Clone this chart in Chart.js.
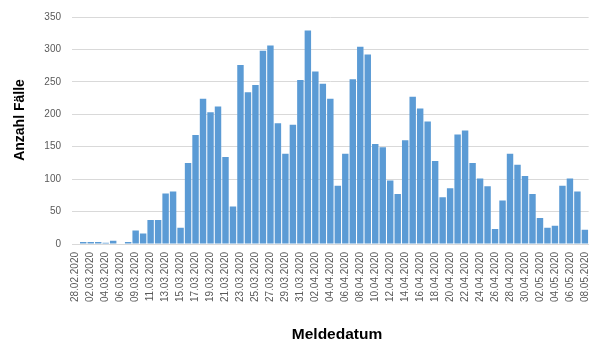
<!DOCTYPE html>
<html lang="de">
<head>
<meta charset="utf-8">
<title>Anzahl Fälle nach Meldedatum</title>
<script src="https://cdn.jsdelivr.net/npm/chart.js@4/dist/chart.umd.min.js"></script>
<style>
  html, body { margin: 0; padding: 0; background: #fff; }
  #chartFaelle { display: block; }
</style>
</head>
<body>
<canvas id="chartFaelle" width="605" height="346"></canvas>
<script>
const meldedatum = [
  "28.02.2020", "01.03.2020", "02.03.2020", "03.03.2020", "04.03.2020", "05.03.2020",
  "06.03.2020", "07.03.2020", "09.03.2020", "10.03.2020", "11.03.2020", "12.03.2020",
  "13.03.2020", "14.03.2020", "15.03.2020", "16.03.2020", "17.03.2020", "18.03.2020",
  "19.03.2020", "20.03.2020", "21.03.2020", "22.03.2020", "23.03.2020", "24.03.2020",
  "25.03.2020", "26.03.2020", "27.03.2020", "28.03.2020", "29.03.2020", "30.03.2020",
  "31.03.2020", "01.04.2020", "02.04.2020", "03.04.2020", "04.04.2020", "05.04.2020",
  "06.04.2020", "07.04.2020", "08.04.2020", "09.04.2020", "10.04.2020", "11.04.2020",
  "12.04.2020", "13.04.2020", "14.04.2020", "15.04.2020", "16.04.2020", "17.04.2020",
  "18.04.2020", "19.04.2020", "20.04.2020", "21.04.2020", "22.04.2020", "23.04.2020",
  "24.04.2020", "25.04.2020", "26.04.2020", "27.04.2020", "28.04.2020", "29.04.2020",
  "30.04.2020", "01.05.2020", "02.05.2020", "03.05.2020", "04.05.2020", "05.05.2020",
  "06.05.2020", "07.05.2020", "08.05.2020"
];

const anzahlFaelle = [
  0, 3, 3, 3, 2, 5, 0, 3, 21, 16,
  37, 37, 78, 81, 25, 125, 168, 224, 203, 212,
  134, 58, 276, 234, 245, 298, 306, 186, 139, 184,
  253, 329, 266, 247, 224, 90, 139, 254, 304, 292,
  154, 149, 98, 77, 160, 227, 209, 189, 128, 72,
  86, 169, 175, 125, 101, 89, 23, 67, 139, 122,
  105, 77, 40, 25, 28, 90, 101, 81, 22
];

const yTicks = [0, 50, 100, 150, 200, 250, 300, 350];

const fontFamily = '"Liberation Sans", Arial, sans-serif';

// Achsentitel selbst zeichnen, damit sie frei positioniert werden können
const achsenTitel = {
  id: "achsenTitel",
  afterDraw(chart) {
    const ctx = chart.ctx;
    ctx.save();
    ctx.fillStyle = "#000";
    ctx.textAlign = "center";
    ctx.textBaseline = "middle";

    ctx.font = "bold 15.5px " + fontFamily;
    ctx.fillText("Meldedatum", 337, 335);

    ctx.translate(20, 120);
    ctx.rotate(-Math.PI / 2);
    ctx.font = "bold 14px " + fontFamily;
    ctx.fillText("Anzahl Fälle", 0, 0);
    ctx.restore();
  }
};

const ctxBar = document.getElementById("chartFaelle").getContext("2d");

new Chart(ctxBar, {
  type: "bar",
  data: {
    labels: meldedatum,
    datasets: [
      {
        label: "Anzahl Fälle",
        data: anzahlFaelle,
        backgroundColor: "#5B9BD5",
        borderWidth: 0,
        categoryPercentage: 1,
        barPercentage: 0.86,
      },
    ],
  },
  options: {
    responsive: false,
    animation: false,
    layout: {
      padding: { top: 15, right: 14, bottom: 0, left: 0 },
    },
    plugins: {
      legend: { display: false },
      tooltip: { enabled: false },
    },
    scales: {
      x: {
        grid: { display: false, drawTicks: false },
        border: { display: true, color: "#D9D9D9", width: 1 },
        ticks: {
          autoSkip: false,
          minRotation: 90,
          maxRotation: 90,
          padding: 8,
          color: "#595959",
          font: { family: fontFamily, size: 10 },
          callback: (value, index) => (index % 2 === 0 ? meldedatum[index] : ""),
        },
        afterFit: (scale) => { scale.height = 102; },
      },
      y: {
        min: yTicks[0],
        max: yTicks[yTicks.length - 1],
        grid: { color: "#D9D9D9", drawTicks: false },
        border: { display: false },
        ticks: {
          stepSize: yTicks[1] - yTicks[0],
          padding: 11,
          color: "#595959",
          font: { family: fontFamily, size: 10 },
        },
        afterFit: (scale) => { scale.width = 72; },
      },
    },
  },
  plugins: [achsenTitel],
});
</script>
</body>
</html>
